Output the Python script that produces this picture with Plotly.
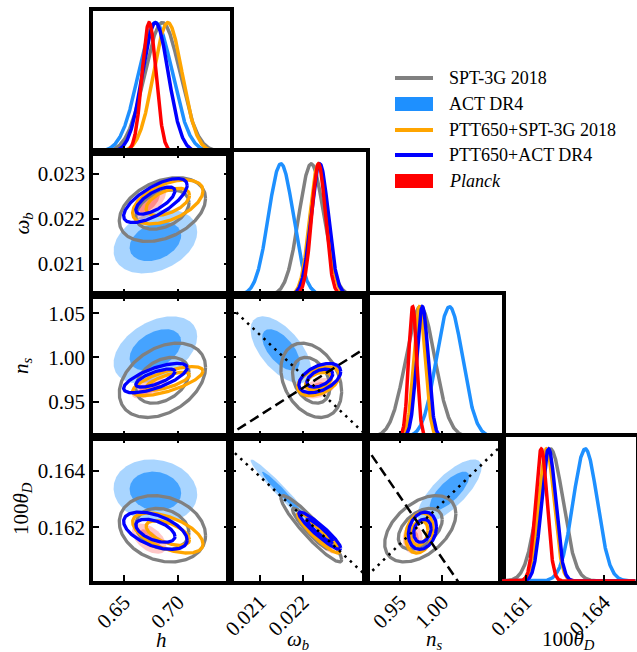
import numpy as np
import plotly.graph_objects as go

# ---------------------------------------------------------------------------
# Parameters shown in the triangle plot
# ---------------------------------------------------------------------------
param_titles = ["<i>h</i>", "<i>ω</i><sub><i>b</i></sub>",
                "<i>n</i><sub><i>s</i></sub>", "100<i>θ</i><sub><i>D</i></sub>"]
param_ranges = [[0.6213, 0.7480], [0.02030, 0.02348], [0.9098, 1.0706], [0.16010, 0.16520]]
x_tickvals = [[0.65, 0.70], [0.021, 0.022], [0.95, 1.00], [0.161, 0.164]]
y_tickvals = [None, [0.021, 0.022, 0.023], [0.95, 1.00, 1.05], [0.162, 0.164]]
tick_formats = [".2f", ".3f", ".2f", ".3f"]

# ---------------------------------------------------------------------------
# Posteriors: means, standard deviations and pairwise correlations
# order of parameters: h, omega_b, n_s, 100theta_D
# order of correlation pairs: (h,wb) (h,ns) (h,th) (wb,ns) (wb,th) (ns,th)
# ---------------------------------------------------------------------------
series_names = ["SPT-3G 2018", "ACT DR4", "PTT650+SPT-3G 2018", "PTT650+ACT DR4", "Planck"]
series_colors = ["#808080", "#1E90FF", "#FFA500", "#0000FF", "#FF0000"]
series_filled = [False, True, False, False, True]

spt_mean = [0.6855, 0.02220, 0.9740, 0.16195]
spt_sigma = [0.0163, 0.00029, 0.0172, 0.00048]
spt_corr = [0.35, 0.35, -0.20, -0.30, -0.93, 0.45]

act_mean = [0.6790, 0.02149, 1.0085, 0.16328]
act_sigma = [0.0158, 0.00029, 0.0155, 0.00046]
act_corr = [0.30, 0.40, -0.10, -0.60, -0.97, 0.75]

ptt_spt_mean = [0.6905, 0.02237, 0.9730, 0.16180]
ptt_spt_sigma = [0.0133, 0.00020, 0.0067, 0.00029]
ptt_spt_corr = [0.50, 0.70, -0.55, 0.40, -0.92, 0.20]

ptt_act_mean = [0.6790, 0.02240, 0.9765, 0.16188]
ptt_act_sigma = [0.0120, 0.00020, 0.0068, 0.00027]
ptt_act_corr = [0.70, 0.70, -0.50, 0.45, -0.93, 0.20]

planck_mean = [0.6732, 0.02237, 0.9650, 0.16160]
planck_sigma = [0.0065, 0.00016, 0.0048, 0.00022]
planck_corr = [0.60, 0.60, -0.50, 0.40, -0.90, 0.00]

series_means = [spt_mean, act_mean, ptt_spt_mean, ptt_act_mean, planck_mean]
series_sigmas = [spt_sigma, act_sigma, ptt_spt_sigma, ptt_act_sigma, planck_sigma]
series_corrs = [spt_corr, act_corr, ptt_spt_corr, ptt_act_corr, planck_corr]
pair_order = [(0, 1), (0, 2), (0, 3), (1, 2), (1, 3), (2, 3)]

# Degeneracy directions: (panel row, panel col, dash, [x0, x1], [y0, y1])
degeneracy_lines = [
    (2, 1, "dot", [0.02034, 0.02342], [1.0557, 0.9148]),
    (2, 1, "dash", [0.02030, 0.02338], [0.9129, 1.0079]),
    (3, 1, "dot", [0.020377, 0.023415], [0.16468, 0.16038]),
    (3, 2, "dot", [0.9145, 1.0643], [0.16038, 0.16474]),
    (3, 2, "dash", [0.9106, 1.0150], [0.16481, 0.16024]),
]

# ---------------------------------------------------------------------------
# Figure geometry
# ---------------------------------------------------------------------------
W, H = 637, 652
col_px = [93, 230, 366, 502, 635.5]
row_px = [11, 152, 295, 437, 581]
FONT = "Liberation Serif, Times New Roman, serif"
K68, K95 = np.sqrt(-2 * np.log(0.32)), np.sqrt(-2 * np.log(0.05))


def xdom(j):
    return [col_px[j] / W, col_px[j + 1] / W]


def ydom(i):
    return [1 - row_px[i + 1] / H, 1 - row_px[i] / H]


def corr_of(s, a, b):
    key = (min(a, b), max(a, b))
    return series_corrs[s][pair_order.index(key)]


def ellipse(s, a, b, k, n=240):
    ma, mb = series_means[s][a], series_means[s][b]
    sa, sb = series_sigmas[s][a], series_sigmas[s][b]
    r = corr_of(s, a, b)
    t = np.linspace(0, 2 * np.pi, n)
    u, v = np.cos(t), np.sin(t)
    x = ma + k * sa * u
    y = mb + k * sb * (r * u + np.sqrt(1 - r * r) * v)
    return x, y


def rgba(hex_color, alpha):
    h = hex_color.lstrip("#")
    r, g, b = int(h[0:2], 16), int(h[2:4], 16), int(h[4:6], 16)
    return f"rgba({r},{g},{b},{alpha})"


fig = go.Figure()
layout = dict(
    width=W, height=H, margin=dict(l=0, r=0, t=0, b=0, autoexpand=False),
    paper_bgcolor="white", plot_bgcolor="white", showlegend=False,
    font=dict(family=FONT, size=21, color="black"),
)

frame = dict(showline=True, linewidth=3.5, linecolor="black", showgrid=False,
             zeroline=False, ticklen=6, tickwidth=1.5, tickcolor="black",
             automargin=False,
             tickfont=dict(family=FONT, size=21, color="black"))

k = 0
panel_axis = {}
for i in range(4):
    for j in range(i + 1):
        k += 1
        panel_axis[(i, j)] = k
        xa = dict(frame, domain=xdom(j), range=param_ranges[j], anchor=f"y{k}",
                  tickmode="array", tickvals=x_tickvals[j], tickformat=tick_formats[j],
                  showticklabels=(i == 3), tickangle=-45, ticks="inside",
                  mirror=True if i == j else "ticks",
                  ticklabelstandoff=-3)
        if i == j:
            ya = dict(frame, domain=ydom(i), range=[0, 1.09], anchor=f"x{k}",
                      showticklabels=False, ticks="", mirror=True)
        else:
            ya = dict(frame, domain=ydom(i), range=param_ranges[i], anchor=f"x{k}",
                      tickmode="array", tickvals=y_tickvals[i], tickformat=tick_formats[i],
                      showticklabels=(j == 0), ticks="inside", mirror="ticks",
                      ticklabelstandoff=0)
        layout[f"xaxis{k}"] = xa
        layout[f"yaxis{k}"] = ya

# ---- 1D marginals on the diagonal ----
for p in range(4):
    k = panel_axis[(p, p)]
    lo, hi = param_ranges[p]
    xs = np.linspace(lo, hi, 500)
    for s in range(len(series_names)):
        mu, sg = series_means[s][p], series_sigmas[s][p]
        ys = np.exp(-0.5 * ((xs - mu) / sg) ** 2)
        fig.add_trace(go.Scatter(x=xs, y=ys, mode="lines",
                                 line=dict(color=series_colors[s], width=3.5),
                                 xaxis=f"x{k}", yaxis=f"y{k}", hoverinfo="skip"))

# ---- 2D contours below the diagonal ----
for i in range(1, 4):
    for j in range(i):
        k = panel_axis[(i, j)]
        ax = dict(xaxis=f"x{k}", yaxis=f"y{k}", hoverinfo="skip")
        # filled posteriors first
        for s in [1, 4]:
            c = series_colors[s]
            a_out, a_in = (0.38, 0.72) if s == 1 else (0.22, 0.30)
            for kk, al in [(K95, a_out), (K68, a_in)]:
                ex, ey = ellipse(s, j, i, kk)
                fig.add_trace(go.Scatter(x=ex, y=ey, mode="lines", fill="toself",
                                         fillcolor=rgba(c, al),
                                         line=dict(color=rgba(c, 0), width=0), **ax))
        # line contours
        for s in [0, 2, 3]:
            for kk in (K95, K68):
                ex, ey = ellipse(s, j, i, kk)
                fig.add_trace(go.Scatter(x=ex, y=ey, mode="lines",
                                         line=dict(color=series_colors[s], width=3.3), **ax))

# ---- degeneracy directions ----
for (i, j, dash, xs, ys) in degeneracy_lines:
    k = panel_axis[(i, j)]
    x0, x1 = xs
    y0, y1 = ys
    slope = (y1 - y0) / (x1 - x0)
    span = x1 - x0
    xe = [x0 - span, x1 + span]
    ye = [y0 - slope * span, y1 + slope * span]
    pattern = "2.5px,5px" if dash == "dot" else "10px,5px"
    fig.add_trace(go.Scatter(x=xe, y=ye, mode="lines",
                             line=dict(color="black", width=2.5, dash=pattern),
                             xaxis=f"x{k}", yaxis=f"y{k}", hoverinfo="skip"))

# ---- axis titles ----
annotations = []
for j in range(4):
    cx = 0.5 * (col_px[j] + col_px[j + 1]) / W
    annotations.append(dict(text=param_titles[j], x=cx, y=1 - 640 / H, xref="paper",
                            yref="paper", showarrow=False, xanchor="center",
                            yanchor="middle", font=dict(family=FONT, size=21)))
for i in range(1, 4):
    cy = 1 - 0.5 * (row_px[i] + row_px[i + 1]) / H
    annotations.append(dict(text=param_titles[i], x=22 / W, y=cy, xref="paper",
                            yref="paper", showarrow=False, xanchor="center",
                            yanchor="middle", textangle=-90,
                            font=dict(family=FONT, size=21)))

# ---- legend ----
shapes = []
legend_rows = [78, 104, 130, 155, 181]
for s, name in enumerate(series_names):
    yc = legend_rows[s]
    if series_filled[s]:
        shapes.append(dict(type="rect", xref="paper", yref="paper",
                           x0=395 / W, x1=433 / W, y0=1 - (yc + 7) / H, y1=1 - (yc - 7) / H,
                           fillcolor=series_colors[s], line=dict(width=0)))
    else:
        shapes.append(dict(type="line", xref="paper", yref="paper",
                           x0=395 / W, x1=433 / W, y0=1 - yc / H, y1=1 - yc / H,
                           line=dict(color=series_colors[s], width=4)))
    label = f"<i>{name}</i>" if name == "Planck" else name
    annotations.append(dict(text=label, x=447 / W, y=1 - yc / H, xref="paper",
                            yref="paper", showarrow=False, xanchor="left",
                            yanchor="middle", font=dict(family=FONT, size=18)))

layout["annotations"] = annotations
layout["shapes"] = shapes
fig.update_layout(**layout)
fig.write_html("out.html")
